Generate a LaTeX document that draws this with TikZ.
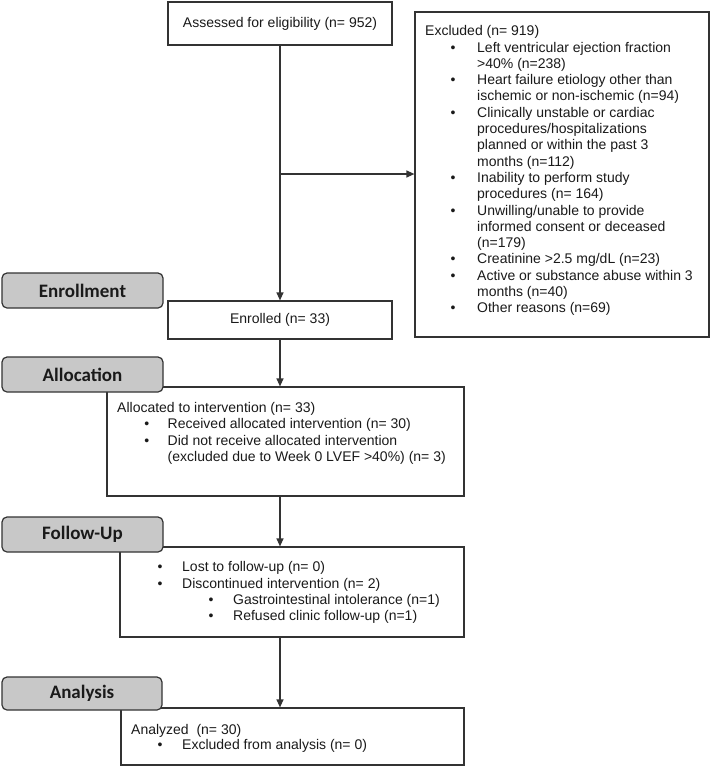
\documentclass[tikz,border=0pt]{standalone}
\usepackage{fontspec}
\setmainfont{Liberation Sans}
\newfontfamily\lblfont{Carlito}
\usetikzlibrary{arrows.meta}
\definecolor{ln}{HTML}{333333}
\definecolor{lblfill}{HTML}{C8C8C8}
\definecolor{tx}{HTML}{1A1A1A}
\begin{document}
\begin{tikzpicture}[x=1pt,y=-1pt,
 box/.style={draw=ln, line width=1.2pt, fill=white, inner sep=0pt, text=tx},
 lbl/.style={draw=ln, line width=1.2pt, fill=lblfill, rounded corners=5pt, inner sep=0pt, text=tx,
   font=\lblfont\bfseries\fontsize{19}{22}\selectfont},
 txt/.style={anchor=base west, inner sep=0pt, text=tx, font=\fontsize{14}{16}\selectfont},
 bul/.style={anchor=base, inner sep=0pt, text=tx, font=\fontsize{14}{16}\selectfont},
 arr/.style={draw=ln, line width=1.2pt, -{Triangle[length=8pt,width=7pt]}}
]
\useasboundingbox (0,0) rectangle (711,766);

% boxes
\node[box, minimum width=224pt, minimum height=43pt, font=\fontsize{14}{16}\selectfont] (assess) at (280,23.5) {Assessed for eligibility (n= 952)};
\node[box, minimum width=294pt, minimum height=325pt] (excl) at (562,174.5) {};
\node[box, minimum width=224pt, minimum height=38pt, font=\fontsize{14}{16}\selectfont] (enr) at (280,320) {Enrolled (n= 33)};
\node[box, minimum width=357pt, minimum height=109pt] (alloc) at (285.5,441.5) {};
\node[box, minimum width=344pt, minimum height=90pt] (fu) at (292,592) {};
\node[box, minimum width=343pt, minimum height=57pt] (ana) at (292.5,736.5) {};

% excluded text
\foreach \k/\b/\t in {0/0/{Excluded (n= 919)},
  1/1/{Left ventricular ejection fraction},
  2/0/{>40\% (n=238)},
  3/1/{Heart failure etiology other than},
  4/0/{ischemic or non-ischemic (n=94)},
  5/1/{Clinically unstable or cardiac},
  6/0/{procedures/hospitalizations},
  7/0/{planned or within the past 3},
  8/0/{months (n=112)},
  9/1/{Inability to perform study},
  10/0/{procedures (n= 164)},
  11/1/{Unwilling/unable to provide},
  12/0/{informed consent or deceased},
  13/0/{(n=179)},
  14/1/{Creatinine >2.5 mg/dL (n=23)},
  15/1/{Active or substance abuse within 3},
  16/0/{months (n=40)},
  17/1/{Other reasons (n=69)}}{
  \pgfmathsetmacro\yy{35.7+16.3*\k}
  \pgfmathsetmacro\xx{\k==0 ? 425 : 477}
  \ifnum\b=1 \node[bul] (exb\k) at (453,\yy) {•};\fi
  \node[txt] (ex\k) at (\xx,\yy) {\t};
}

% allocation text
\node[txt] (al0) at (117,412.7) {Allocated to intervention (n= 33)};
\node[bul] (alb1) at (146.7,428.5) {•};
\node[txt] (al1) at (167.5,428.5) {Received allocated intervention (n= 30)};
\node[bul] (alb2) at (146.7,445) {•};
\node[txt] (al2) at (167.5,445) {Did not receive allocated intervention};
\node[txt] (al3) at (167.5,461.3) {(excluded due to Week 0 LVEF >40\%) (n= 3)};

% follow-up text
\node[bul] (fub0) at (160,571.5) {•};
\node[txt] (fu0) at (182,571.5) {Lost to follow-up (n= 0)};
\node[bul] (fub1) at (160,588) {•};
\node[txt] (fu1) at (182,588) {Discontinued intervention (n= 2)};
\node[bul] (fub2) at (211,604) {•};
\node[txt] (fu2) at (233,604) {Gastrointestinal intolerance (n=1)};
\node[bul] (fub3) at (211,620) {•};
\node[txt] (fu3) at (233,620) {Refused clinic follow-up (n=1)};

% analysis text
\node[txt] (an0) at (131,734) {Analyzed~ (n= 30)};
\node[bul] (anb1) at (160,749) {•};
\node[txt] (an1) at (182,749) {Excluded from analysis (n= 0)};

% connectors
\coordinate (br) at (280,174);
\draw[arr] (assess.south) -- (enr.north);
\draw[arr] (br) -- (br -| excl.west);
\draw[arr] (enr.south) -- (enr.south |- alloc.north);
\draw[arr] (enr.south |- alloc.south) -- (enr.south |- fu.north);
\draw[arr] (enr.south |- fu.south) -- (enr.south |- ana.north);

% stage labels
\node[lbl, minimum width=161pt, minimum height=35pt] (lenr) at (82.5,290.5) {Enrollment};
\node[lbl, minimum width=161pt, minimum height=35pt] (lall) at (82.5,374.5) {Allocation};
\node[lbl, minimum width=161pt, minimum height=35pt] (lfu) at (82.5,534.5) {Follow-Up};
\node[lbl, minimum width=160pt, minimum height=33pt] (lana) at (82,693.5) {Analysis};
\end{tikzpicture}
\end{document}
